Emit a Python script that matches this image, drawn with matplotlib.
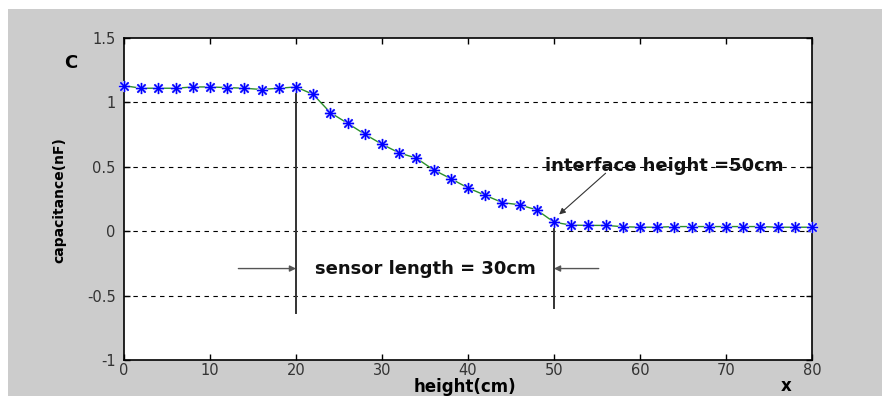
import matplotlib.pyplot as plt
from matplotlib.patches import Rectangle

# measured capacitance vs. height
height = [0, 2, 4, 6, 8, 10, 12, 14, 16, 18, 20, 22, 24, 26, 28, 30, 32, 34, 36, 38, 40,
          42, 44, 46, 48, 50, 52, 54, 56, 58, 60, 62, 64, 66, 68, 70, 72, 74, 76, 78, 80]
cap = [1.13, 1.11, 1.11, 1.11, 1.12, 1.12, 1.115, 1.11, 1.10, 1.11, 1.12, 1.062, 0.92, 0.838,
       0.753, 0.675, 0.608, 0.567, 0.476, 0.408, 0.336, 0.279, 0.222, 0.205, 0.165, 0.07, 0.047,
       0.045, 0.045, 0.035, 0.031, 0.031, 0.036, 0.036, 0.036, 0.036, 0.036, 0.036, 0.031, 0.031, 0.031]

sensor_start = 20
sensor_end = 50

fig = plt.figure(figsize=(8.82, 3.96), dpi=100, facecolor='#cccccc')
# white strips at top and left like the original screenshot
fig.patches.append(Rectangle((0, 1 - 9 / 396), 1, 9 / 396, transform=fig.transFigure,
                             facecolor='white', edgecolor='none', zorder=-1))
fig.patches.append(Rectangle((0, 0), 8 / 882, 1, transform=fig.transFigure,
                             facecolor='white', edgecolor='none', zorder=-1))

ax = fig.add_axes([124 / 882, 36 / 396, 688 / 882, 322 / 396])
ax.set_facecolor('white')

for yv in [-0.5, 0, 0.5, 1]:
    ax.axhline(yv, color='black', ls=(0, (4, 4)), lw=0.8, zorder=1)

ax.plot(height, cap, color='#2a8f2a', lw=1, zorder=3)
ast = (8, 2, 0)
ax.plot(height, cap, ls='none', marker=ast, ms=8, mec='#b4b4ff', mew=1.8,
        zorder=4, clip_on=False)
ax.plot(height, cap, ls='none', marker=ast, ms=8, mec='#0000ff', mew=0.8,
        zorder=5, clip_on=False)

# sensor ends
ax.plot([sensor_start, sensor_start], [cap[10], -0.635], color='#333333', lw=1.4, zorder=2)
ax.plot([sensor_end, sensor_end], [cap[25], -0.6], color='#333333', lw=1.4, zorder=2)

arrow = dict(arrowstyle='-|>', color='#555555', lw=1, mutation_scale=9,
             shrinkA=0, shrinkB=0)
ax.annotate('', xy=(sensor_start, -0.29), xytext=(13.3, -0.29), arrowprops=arrow)
ax.annotate('', xy=(sensor_end, -0.29), xytext=(55.2, -0.29), arrowprops=arrow)
ax.text(35.1, -0.29, 'sensor length = 30cm', ha='center', va='center',
        fontsize=13, fontweight='bold', color='#111111')

ax.annotate('', xy=(50.6, 0.13), xytext=(56, 0.45),
            arrowprops=dict(arrowstyle='-|>', color='#333333', lw=0.8, mutation_scale=9,
                            shrinkA=0, shrinkB=0))
ax.text(62.8, 0.51, 'interface height =50cm', ha='center', va='center',
        fontsize=13, fontweight='bold', color='#111111')

ax.set_xlim(0, 80)
ax.set_ylim(-1, 1.5)
ax.set_xticks(range(0, 81, 10))
ax.set_yticks([-1, -0.5, 0, 0.5, 1, 1.5])
ax.set_yticklabels(['-1', '-0.5', '0', '0.5', '1', '1.5'])
ax.tick_params(direction='in', top=True, right=True, length=4, width=1,
               labelsize=10.5, labelcolor='#333333')
ax.tick_params(axis='y', pad=6)
ax.tick_params(axis='x', pad=2)
for s in ax.spines.values():
    s.set_linewidth(1.2)

fig.text(465 / 882, 1 - 387 / 396, 'height(cm)', ha='center', va='center',
         fontsize=12, fontweight='bold')
fig.text(786 / 882, 1 - 386 / 396, 'x', ha='center', va='center',
         fontsize=12, fontweight='bold')
fig.text(71 / 882, 1 - 63 / 396, 'C', ha='center', va='center',
         fontsize=13, fontweight='bold')
fig.text(59 / 882, 1 - 200 / 396, 'capacitance(nF)', ha='center', va='center',
         rotation=90, fontsize=10, fontweight='bold', family='Liberation Sans Narrow')

fig.savefig('out.png', dpi=100)
